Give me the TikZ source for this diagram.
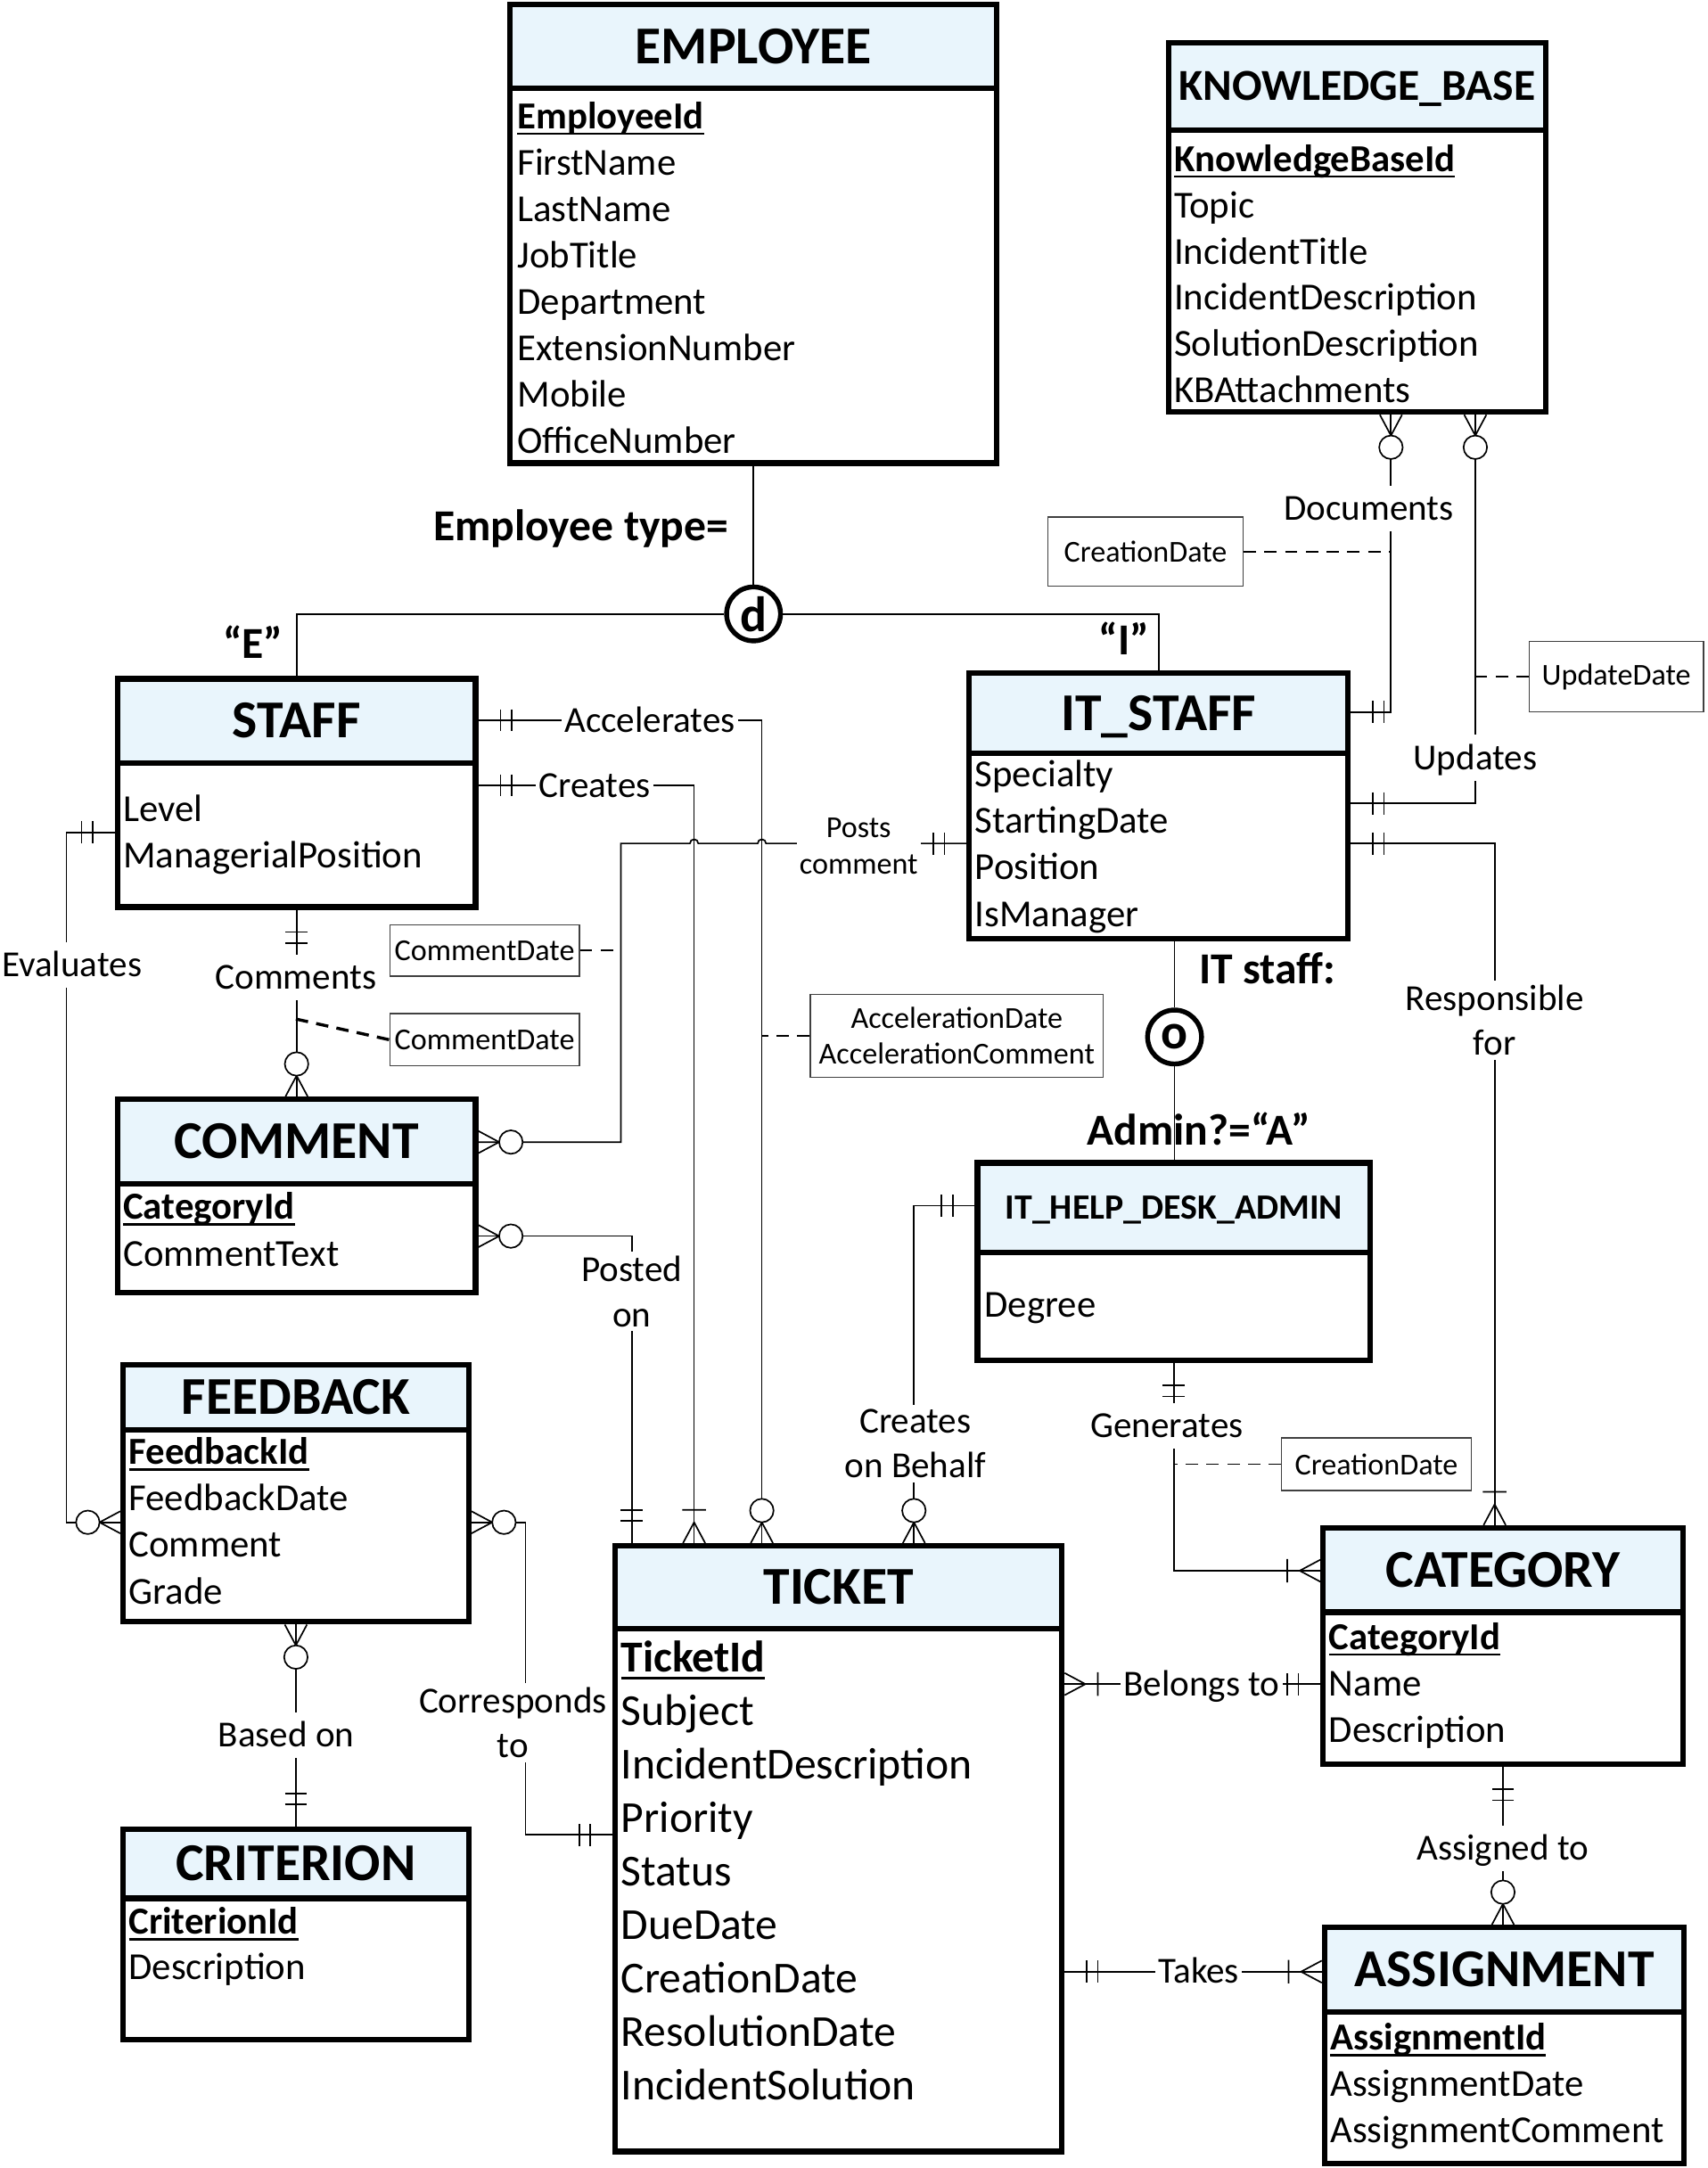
\documentclass[tikz,border=0pt]{standalone}
\usepackage{fontspec}
\setmainfont{Carlito}
\definecolor{headblue}{RGB}{233,245,252}
\newsavebox\pkbox
% primary key: bold, underlined Word-style just below the baseline
\newcommand\pkey[1]{\sbox\pkbox{\bfseries #1}\rlap{\rule[-0.17em]{\wd\pkbox}{0.065em}}\usebox\pkbox}
\tikzset{
  ebox/.style={draw, line width=4pt, fill=white, inner sep=0pt},
  ehead/.style={draw, line width=4pt, fill=headblue, inner sep=0pt,
    font=\fontsize{38.5}{40}\selectfont\bfseries, text height=24.6pt, text depth=0pt},
  attr/.style={anchor=west, inner sep=0pt, font=\fontsize{27.6}{30}\selectfont,
    text height=17.7pt, text depth=0pt},
  tattr/.style={attr, font=\fontsize{32}{34}\selectfont, text height=20.5pt},
  abox/.style={draw=black!75, line width=0.8pt, fill=white, inner sep=0pt,
    font=\fontsize{22}{26}\selectfont, align=center},
  rel/.style={fill=white, inner xsep=2pt, inner ysep=5pt, font=\fontsize{26.5}{32.5}\selectfont,
    text height=20pt, text depth=3pt},
  rel2/.style={fill=white, inner xsep=2pt, inner ysep=3pt, align=center,
    font=\fontsize{26.5}{32.5}\selectfont},
  blabel/.style={inner sep=0pt, font=\fontsize{32}{34}\selectfont\bfseries,
    text height=20.5pt, text depth=0pt},
  conn/.style={line width=1.1pt},
  attrlink/.style={line width=1.1pt, dash pattern=on 9pt off 6pt},
  isa/.style={circle, draw, line width=3.5pt, fill=white, minimum size=39pt, inner sep=0pt,
    font=\fontsize{36}{36}\selectfont\bfseries},
  pics/two bars/.style={code={\draw[conn] (16,-8) -- (16,8) (24,-8) -- (24,8);}},
  pics/one many/.style={code={\draw[conn] (0,-8) -- (15,0) -- (0,8) (24,-8.5) -- (24,8.5);}},
  pics/zero many/.style={code={\draw[conn] (0,-8) -- (15,0) -- (0,8);
      \draw[conn, fill=white] (23.5,0) circle[radius=8.5];}},
}
\begin{document}
\begin{tikzpicture}[x=1pt, y=-1pt]
\fill[white] (0,0) rectangle (1235,1568);
\useasboundingbox (0,0) rectangle (1235,1568);

% ---------- entities ----------
\node[ebox, minimum width=352pt, minimum height=332pt] (employee) at (545,169) {};
\node[ehead, minimum width=352pt, minimum height=61pt, anchor=north] (employee-h) at (employee.north) {EMPLOYEE};
\node[attr] (employee-pk) at (374,84) {\pkey{EmployeeId}};
\foreach \t [count=\i] in {FirstName,LastName,JobTitle,Department,ExtensionNumber,Mobile,OfficeNumber}
  \node[attr] (employee-\i) at (374,{84+\i*33.6}) {\t};

\node[ebox, minimum width=273pt, minimum height=267pt] (kb) at (981.5,164.5) {};
\node[ehead, minimum width=273pt, minimum height=63pt, anchor=north,
  font=\fontsize{32}{34}\selectfont\bfseries, text height=20.5pt] (kb-h) at (kb.north) {KNOWLEDGE\_BASE};
\node[attr] (kb-pk) at (849,115) {\pkey{KnowledgeBaseId}};
\foreach \t [count=\i] in {Topic,IncidentTitle,IncidentDescription,SolutionDescription,KBAttachments}
  \node[attr] (kb-\i) at (849,{115+\i*33.5}) {\t};

\node[ebox, minimum width=259pt, minimum height=165pt] (staff) at (214.5,573.5) {};
\node[ehead, minimum width=259pt, minimum height=61pt, anchor=north] (staff-h) at (staff.north) {STAFF};
\node[attr] (staff-1) at (89,585) {Level};
\node[attr] (staff-2) at (89,619) {ManagerialPosition};

\node[ebox, minimum width=274pt, minimum height=192pt] (itstaff) at (838,583) {};
\node[ehead, minimum width=274pt, minimum height=58pt, anchor=north] (itstaff-h) at (itstaff.north) {IT\_STAFF};
\foreach \t [count=\i] in {Specialty,StartingDate,Position,IsManager}
  \node[attr] (itstaff-\i) at (705,{560+(\i-1)*33.7}) {\t};

\node[ebox, minimum width=259pt, minimum height=140pt] (comment) at (214.5,865) {};
\node[ehead, minimum width=259pt, minimum height=61pt, anchor=north] (comment-h) at (comment.north) {COMMENT};
\node[attr] (comment-pk) at (89,873) {\pkey{CategoryId}};
\node[attr] (comment-1) at (89,907) {CommentText};

\node[ebox, minimum width=284pt, minimum height=143pt] (admin) at (849,912.5) {};
\node[ehead, minimum width=284pt, minimum height=65pt, anchor=north,
  font=\fontsize{25.7}{28}\selectfont\bfseries, text height=16.4pt] (admin-h) at (admin.north) {IT\_HELP\_DESK\_ADMIN};
\node[attr] (admin-1) at (712,944) {Degree};

\node[ebox, minimum width=250pt, minimum height=186pt] (feedback) at (214,1080) {};
\node[ehead, minimum width=250pt, minimum height=47pt, anchor=north] (feedback-h) at (feedback.north) {FEEDBACK};
\node[attr] (feedback-pk) at (93,1050) {\pkey{FeedbackId}};
\foreach \t [count=\i] in {FeedbackDate,Comment,Grade}
  \node[attr] (feedback-\i) at (93,{1050+\i*33.7}) {\t};

\node[ebox, minimum width=250pt, minimum height=152pt] (criterion) at (214,1399) {};
\node[ehead, minimum width=250pt, minimum height=50pt, anchor=north] (criterion-h) at (criterion.north) {CRITERION};
\node[attr] (criterion-pk) at (93,1390) {\pkey{CriterionId}};
\node[attr] (criterion-1) at (93,1423) {Description};

\node[ebox, minimum width=323pt, minimum height=438pt] (ticket) at (606.5,1337) {};
\node[ehead, minimum width=323pt, minimum height=60pt, anchor=north] (ticket-h) at (ticket.north) {TICKET};
\node[tattr] (ticket-pk) at (449,1199) {\pkey{TicketId}};
\foreach \t [count=\i] in {Subject,IncidentDescription,Priority,Status,DueDate,CreationDate,ResolutionDate,IncidentSolution}
  \node[tattr] (ticket-\i) at (449,{1199+\i*38.65}) {\t};

\node[ebox, minimum width=260pt, minimum height=171pt] (category) at (1087,1190.5) {};
\node[ehead, minimum width=260pt, minimum height=61pt, anchor=north] (category-h) at (category.north) {CATEGORY};
\node[attr] (category-pk) at (961,1184) {\pkey{CategoryId}};
\node[attr] (category-1) at (961,1218) {Name};
\node[attr] (category-2) at (961,1251) {Description};

\node[ebox, minimum width=260pt, minimum height=171pt] (assignment) at (1088,1479.5) {};
\node[ehead, minimum width=260pt, minimum height=61pt, anchor=north] (assignment-h) at (assignment.north) {ASSIGNMENT};
\node[attr] (assignment-pk) at (962,1474) {\pkey{AssignmentId}};
\node[attr] (assignment-1) at (962,1507.5) {AssignmentDate};
\node[attr] (assignment-2) at (962,1541) {AssignmentComment};

% ---------- specialisation circles ----------
\node[isa] (dcirc) at (545,444) {d};
\node[isa] (ocirc) at (849.5,750) {o};

% ---------- relationship attribute boxes ----------
\node[abox, minimum width=141pt, minimum height=50pt] (kbdate) at (828.5,399) {CreationDate};
\node[abox, minimum width=126pt, minimum height=51pt] (upddate) at (1169,489.5) {UpdateDate};
\node[abox, minimum width=137pt, minimum height=37pt] (cdate1) at (350.5,687.5) {CommentDate};
\node[abox, minimum width=137pt, minimum height=38pt] (cdate2) at (350.5,752) {CommentDate};
\node[abox, minimum width=212pt, minimum height=60pt] (accbox) at (692,749) {AccelerationDate\\AccelerationComment};
\node[abox, minimum width=137pt, minimum height=38pt] (gendate) at (995.5,1059) {CreationDate};

% ---------- connectors ----------
\draw[conn] (employee.south) -- (dcirc);
\draw[conn] (staff.north) |- (dcirc.west);
\draw[conn] (itstaff.north) |- (dcirc.east);
\draw[conn] (itstaff.south -| ocirc) -- (ocirc);
\draw[conn] (ocirc) -- (admin.north -| ocirc);

\draw[conn] (kb.south -| 1006,0) |- (itstaff.east |- 0,515);
\draw[conn] (kb.south -| 1067,0) |- (itstaff.east |- 0,581);
\draw[conn] (itstaff.east |- 0,610) -| (category.north -| 1081,0);
\draw[conn] (staff.east |- 0,521) -| (ticket.north -| 551,0);
\draw[conn] (staff.east |- 0,568) -| (ticket.north -| 502,0);
\draw[conn] (comment.east |- 0,894) -| (ticket.north -| 457,0);
\draw[conn] (itstaff.west |- 0,610) -- (554,610) arc (0:-180:3) -- (505,610) arc (0:-180:3)
  -- (449,610) -- (449,826) -- (comment.east |- 0,826);
\draw[conn] (staff.south) -- (comment.north);
\draw[conn] (staff.west |- 0,602) -- ++(-35,0) |- (feedback.west |- 0,1101);
\draw[conn] (feedback.south) -- (criterion.north);
\draw[conn] (feedback.east |- 0,1101) -- ++(39,0) |- (ticket.west |- 0,1327);
\draw[conn] (admin.west |- 0,872) -| (ticket.north -| 661,0);
\draw[conn] (admin.south) |- (category.west |- 0,1136);
\draw[conn] (ticket.east |- 0,1218) -- (category.west |- 0,1218);
\draw[conn] (category.south) -- (category.south |- assignment.north);
\draw[conn] (ticket.east |- 0,1426) -- (assignment.west |- 0,1426);

% dashed links to relationship attributes
\draw[attrlink] (kbdate.east) -- (kbdate.east -| 1006,0);
\draw[attrlink] (upddate.west) -- (upddate.west -| 1067,0);
\draw[attrlink] (cdate1.east) -- (cdate1.east -| 449,0);
\draw[attrlink, line width=2.2pt] (214,737) -- (cdate2.west);
\draw[attrlink] (accbox.west) -- (accbox.west -| 551,0);
\draw[attrlink] (gendate.west) -- (gendate.west -| 849,0);

% ---------- cardinality marks ----------
\pic[rotate=-90] at (kb.south -| 1006,0) {zero many};
\pic[rotate=-90] at (kb.south -| 1067,0) {zero many};
\pic at (itstaff.east |- 0,515) {two bars};
\pic at (itstaff.east |- 0,581) {two bars};
\pic at (itstaff.east |- 0,610) {two bars};
\pic[rotate=90] at (category.north -| 1081,0) {one many};
\pic at (staff.east |- 0,521) {two bars};
\pic at (staff.east |- 0,568) {two bars};
\pic[rotate=90] at (ticket.north -| 551,0) {zero many};
\pic[rotate=90] at (ticket.north -| 502,0) {one many};
\pic[rotate=90] at (ticket.north -| 457,0) {two bars};
\pic[rotate=90] at (ticket.north -| 661,0) {zero many};
\pic[rotate=180] at (itstaff.west |- 0,610) {two bars};
\pic at (comment.east |- 0,826) {zero many};
\pic at (comment.east |- 0,894) {zero many};
\pic[rotate=-90] at (staff.south) {two bars};
\pic[rotate=90] at (comment.north) {zero many};
\pic[rotate=180] at (staff.west |- 0,602) {two bars};
\pic[rotate=180] at (feedback.west |- 0,1101) {zero many};
\pic at (feedback.east |- 0,1101) {zero many};
\pic[rotate=-90] at (feedback.south) {zero many};
\pic[rotate=90] at (criterion.north) {two bars};
\pic[rotate=180] at (ticket.west |- 0,1327) {two bars};
\pic[rotate=180] at (admin.west |- 0,872) {two bars};
\pic[rotate=-90] at (admin.south) {two bars};
\pic[rotate=180] at (category.west |- 0,1136) {one many};
\pic at (ticket.east |- 0,1218) {one many};
\pic[rotate=180] at (category.west |- 0,1218) {two bars};
\pic[rotate=-90] at (category.south) {two bars};
\pic[rotate=90] at (category.south |- assignment.north) {zero many};
\pic at (ticket.east |- 0,1426) {two bars};
\pic[rotate=180] at (assignment.west |- 0,1426) {one many};

% ---------- relationship names ----------
\node[rel] (l-doc) at (990,368) {Documents};
\node[rel] (l-upd) at (1067,548) {Updates};
\node[rel2] (l-resp) at (1081,738) {Responsible\\for};
\node[rel] (l-acc) at (470,521) {Accelerates};
\node[rel] (l-cre) at (430,568) {Creates};
\node[rel2, font=\fontsize{22}{27}\selectfont] (l-posts) at (621,612) {Posts\\comment};
\node[rel] (l-comments) at (214,707) {Comments};
\node[rel] (l-eval) at (52,698) {Evaluates};
\node[rel2] (l-posted) at (457,934) {Posted\\on};
\node[rel] (l-based) at (207,1255) {Based on};
\node[rel2] (l-corr) at (371,1246) {Corresponds\\to};
\node[rel2] (l-behalf) at (662,1044) {Creates\\on Behalf};
\node[rel] (l-gen) at (844,1031) {Generates};
\node[rel] (l-belongs) at (869,1218) {Belongs to};
\node[rel] (l-assigned) at (1087,1337) {Assigned to};
\node[rel] (l-takes) at (867,1426) {Takes};

% ---------- specialisation labels ----------
\node[blabel, anchor=east] (l-etype) at (527,381) {Employee type=};
\node[blabel] (l-e) at (183,466) {“E”};
\node[blabel] (l-i) at (813,463) {“I”};
\node[blabel, anchor=west] (l-its) at (867,701) {IT staff:};
\node[blabel] (l-adm) at (867,818) {Admin?=“A”};
\end{tikzpicture}
\end{document}
